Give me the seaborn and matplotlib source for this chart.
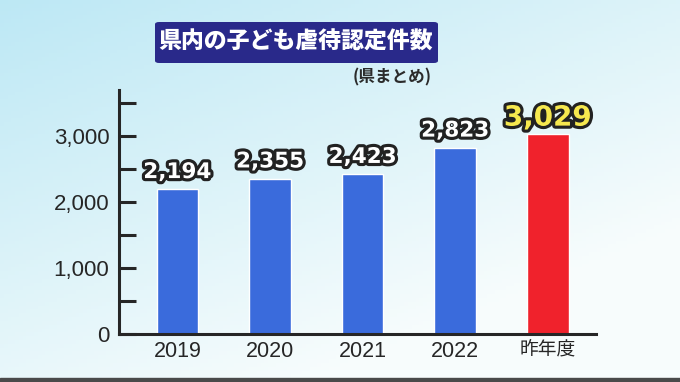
import numpy as np
import matplotlib
matplotlib.use("Agg")
import matplotlib.pyplot as plt
import matplotlib.patheffects as pe
from matplotlib.patches import FancyBboxPatch, Rectangle
from matplotlib.ticker import MultipleLocator
import seaborn as sns

# ---- data ----
categories = ["2019", "2020", "2021", "2022", "昨年度"]
values = [2194, 2355, 2423, 2823, 3029]
value_labels = ["2,194", "2,355", "2,423", "2,823", "3,029"]
bar_colors = ["#3a6bdc", "#3a6bdc", "#3a6bdc", "#3a6bdc", "#f0222c"]
yticks = [0, 1000, 2000, 3000]
ytick_labels = ["0", "1,000", "2,000", "3,000"]
title = "県内の子ども虐待認定件数"
subtitle = "(県まとめ)"

sns.set_theme(style="white")
plt.rcParams["font.family"] = ["Liberation Sans", "Noto Sans CJK JP", "DejaVu Sans"]

fig = plt.figure(figsize=(6.8, 3.82), dpi=100)

# background gradient
bg = fig.add_axes([0, 0, 1, 1], zorder=-10)
h, w = 100, 180
yy, xx = np.mgrid[0:1:h * 1j, 0:1:w * 1j]
t = np.clip(0.55 * xx + 0.75 * yy, 0, 1)
c0 = np.array([0.74, 0.91, 0.96])
c1 = np.array([0.97, 0.99, 0.99])
img = c0[None, None, :] * (1 - t[..., None]) + c1[None, None, :] * t[..., None]
bg.imshow(img, aspect="auto", extent=[0, 1, 0, 1], origin="upper")
bg.set_axis_off()
bg.add_patch(Rectangle((0, 0), 1, 4 / 382, color="#4a4a4a", transform=bg.transAxes))

ax = fig.add_axes([119 / 680, 48 / 382, (596 - 119) / 680, 244 / 382])
ax.patch.set_alpha(0)

sns.barplot(x=categories, y=values, hue=categories, palette=bar_colors,
            legend=False, width=0.45, ax=ax, saturation=1)

ax.set_xlim(-0.63, 4.52)
ax.set_ylim(0, 3700)
ax.set_yticks(yticks)
ax.set_yticklabels(ytick_labels)
ax.yaxis.set_minor_locator(MultipleLocator(500))
ax.set_xlabel("")
ax.set_ylabel("")

for s in ["top", "right"]:
    ax.spines[s].set_visible(False)
for s in ["left", "bottom"]:
    ax.spines[s].set_color("#262626")
    ax.spines[s].set_linewidth(2.2)

ax.tick_params(axis="y", which="both", direction="in", length=12, width=2.2,
               color="#262626", left=True, pad=7, labelsize=16, labelcolor="#262626")
ax.tick_params(axis="x", length=0, pad=5, labelsize=15.5, labelcolor="#262626")
xl = ax.get_xticklabels()
xl[-1].set_fontsize(13.5)

for i, (v, lab) in enumerate(zip(values, value_labels)):
    last = i == len(values) - 1
    ax.text(i, v + (40 if last else 110), lab, ha="center", va="bottom",
            fontsize=20 if last else 15.5, fontweight="bold",
            family="DejaVu Sans",
            color="#f6e84e" if last else "white",
            path_effects=[pe.Stroke(linewidth=4.5, foreground="#222222"), pe.Normal()])

# title box
box = FancyBboxPatch((155 / 680, 1 - 63 / 382), (438 - 155) / 680, 41 / 382,
                     boxstyle="round,pad=0,rounding_size=0.006",
                     transform=fig.transFigure, facecolor="#29298a",
                     edgecolor="none", zorder=5)
fig.patches.append(box)
fig.text(296 / 680, 1 - 42 / 382, title, ha="center", va="center",
         fontsize=16.5, fontweight="heavy", color="white",
         family=["Noto Sans CJK JP", "DejaVu Sans"], zorder=6)
fig.text(392 / 680, 1 - 77 / 382, subtitle, ha="center", va="center",
         fontsize=12, fontweight="bold", color="#2b2b2b",
         family=["Noto Sans CJK JP", "DejaVu Sans"])

fig.savefig("out.png", dpi=100)
